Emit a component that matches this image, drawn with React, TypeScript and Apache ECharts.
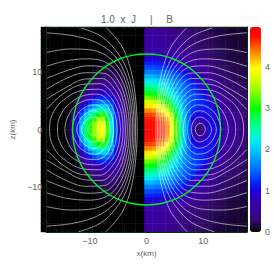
import React, { useEffect, useRef } from "react";
import * as echarts from "echarts";

const AXIS_LIMIT = 17.7;
const STAR_RADIUS = 13.03;
const COLOR_MAX = 4.96;
const HALF_CELLS = 24;
const OUTSIDE_COLS = 6;
const labelTicks = [-10, 0, 10];
const minorTicks = [-16, -14, -12, -10, -8, -6, -4, -2, 0, 2, 4, 6, 8, 10, 12, 14, 16];
const colorbarTicks = [0, 1, 2, 3, 4];
const palette = ["#000000", "#300a66", "#3c0098", "#3400b0", "#1c00d8", "#0030ff", "#0068ff", "#0098ff", "#00c8ff", "#00f0f0", "#00ffa8", "#00ff60", "#00ff00", "#50ff00", "#a0ff00", "#e0ff00", "#ffff00", "#ffb000", "#ff6000", "#ff1000", "#ff0000"];

// Left half (J): rows go outward from the equator, columns from x=-12.9 to x=-0.4
const currentRows = [
  [.12,.5,1.2,2.0,2.7,3.1,3.45,3.8,3.95,3.2,2.3,1.4,.85,.5,.15],
  [.1,.47,1.12,1.9,2.6,3.0,3.35,3.7,3.8,3.12,2.25,1.36,.82,.5,.14],
  [.08,.4,1.0,1.72,2.35,2.75,3.1,3.4,3.5,2.95,2.15,1.3,.78,.47,.13],
  [.05,.3,.82,1.4,2.0,2.4,2.7,2.98,3.05,2.65,1.98,1.22,.73,.43,.12],
  [.02,.2,.62,1.1,1.6,1.98,2.28,2.5,2.55,2.3,1.75,1.12,.68,.4,.1],
  [0,.1,.42,.82,1.2,1.55,1.82,2.0,2.05,1.9,1.5,1.0,.62,.36,.09],
  [0,.04,.26,.56,.88,1.15,1.38,1.55,1.6,1.5,1.25,.88,.55,.32,.08],
  [0,0,.13,.38,.6,.82,1.0,1.15,1.2,1.18,1.0,.75,.48,.27,.06],
  [0,0,.05,.22,.42,.58,.7,.8,.87,.88,.8,.62,.41,.22,.05],
  [0,0,0,.1,.26,.4,.5,.57,.62,.64,.6,.5,.34,.18,.04],
  [0,0,0,.03,.14,.27,.35,.42,.46,.47,.45,.38,.27,.14,.03],
  [0,0,0,0,.06,.16,.24,.3,.34,.35,.34,.29,.21,.1,.02],
  [0,0,0,0,.01,.08,.15,.21,.25,.26,.25,.22,.16,.07,.01],
  [0,0,0,0,0,.02,.08,.14,.18,.19,.19,.16,.11,.05,0],
  [0,0,0,0,0,0,.03,.08,.12,.14,.14,.11,.07,.03,0],
  [0,0,0,0,0,0,.01,.03,.06,.08,.09,.07,.04,.01,0],
  [0,0,0,0,0,0,0,0,.02,.04,.05,.04,.02,0,0],
];

// Right half (B): rows go outward from the equator, columns from x=0.4 to x=17.3
const fieldRows = [
  [4.82,4.82,4.8,4.75,4.65,4.42,3.95,3.25,2.65,2.0,1.35,.75,.2,.35,.8,1.0,1.05,.9,.68,.56,.5,.45,.4,.37],
  [4.78,4.78,4.75,4.7,4.58,4.35,3.88,3.2,2.62,2.0,1.38,.85,.5,.55,.85,1.02,1.05,.9,.68,.56,.5,.45,.4,.37],
  [4.7,4.7,4.66,4.6,4.47,4.22,3.75,3.1,2.55,1.98,1.42,1.0,.78,.78,.95,1.05,1.05,.88,.66,.55,.49,.44,.39,.36],
  [4.58,4.57,4.52,4.42,4.25,3.98,3.5,2.95,2.45,1.92,1.47,1.12,.98,.98,1.05,1.1,1.03,.85,.64,.53,.47,.42,.38,.35],
  [4.35,4.33,4.27,4.15,3.95,3.65,3.2,2.78,2.32,1.85,1.5,1.25,1.12,1.1,1.12,1.1,.98,.78,.6,.5,.45,.4,.36,.33],
  [4.05,4.02,3.96,3.82,3.6,3.28,2.92,2.55,2.17,1.78,1.52,1.32,1.2,1.18,1.15,1.07,.9,.7,.56,.47,.42,.38,.34,.31],
  [3.7,3.68,3.6,3.45,3.25,2.98,2.68,2.35,2.02,1.72,1.52,1.36,1.26,1.2,1.13,1.0,.8,.63,.52,.44,.39,.35,.32,.29],
  [3.3,3.28,3.22,3.1,2.94,2.72,2.46,2.18,1.9,1.68,1.5,1.38,1.28,1.18,1.06,.88,.7,.57,.47,.41,.36,.33,.3,.27],
  [3.0,2.98,2.92,2.82,2.68,2.48,2.26,2.02,1.8,1.62,1.47,1.35,1.24,1.12,.95,.77,.62,.51,.43,.37,.33,.3,.27,.25],
  [2.72,2.7,2.65,2.56,2.43,2.27,2.08,1.88,1.7,1.55,1.42,1.3,1.17,1.0,.84,.68,.55,.46,.39,.34,.3,.27,.25,.23],
  [2.45,2.43,2.38,2.31,2.2,2.06,1.9,1.74,1.6,1.47,1.35,1.2,1.05,.88,.73,.6,.49,.41,.35,.31,.28,.25,.23,.21],
  [2.2,2.18,2.14,2.07,1.97,1.86,1.73,1.6,1.48,1.37,1.23,1.07,.92,.77,.64,.53,.44,.37,.32,.28,.25,.23,.21,.19],
  [1.9,1.88,1.85,1.8,1.73,1.65,1.55,1.45,1.35,1.22,1.07,.93,.8,.67,.56,.47,.4,.34,.29,.26,.23,.21,.19,.18],
  [1.62,1.61,1.58,1.55,1.5,1.44,1.36,1.27,1.17,1.05,.92,.8,.69,.58,.5,.42,.36,.31,.27,.24,.21,.19,.18,.17],
  [1.38,1.37,1.35,1.32,1.28,1.23,1.17,1.09,1.0,.89,.78,.68,.59,.51,.44,.38,.33,.28,.25,.22,.2,.18,.17,.16],
  [1.18,1.17,1.15,1.13,1.09,1.04,.99,.92,.84,.75,.67,.59,.52,.45,.39,.34,.3,.26,.23,.2,.18,.17,.16,.15],
  [1.0,.99,.97,.95,.91,.87,.82,.76,.7,.63,.57,.51,.45,.4,.35,.31,.27,.24,.21,.19,.17,.16,.15,.14],
  [.82,.81,.79,.77,.74,.71,.67,.63,.58,.53,.48,.44,.39,.35,.31,.28,.25,.22,.2,.18,.16,.15,.14,.13],
  [.68,.67,.66,.64,.62,.59,.56,.53,.49,.45,.42,.38,.35,.31,.28,.25,.23,.2,.18,.17,.15,.14,.13,.12],
  [.65,.64,.62,.6,.58,.55,.52,.49,.45,.42,.38,.35,.32,.29,.26,.23,.21,.19,.17,.16,.14,.13,.12,.12],
  [.62,.61,.59,.57,.55,.52,.49,.46,.43,.39,.36,.33,.3,.27,.24,.22,.2,.18,.16,.15,.14,.13,.12,.11],
  [.6,.59,.57,.55,.52,.49,.46,.43,.4,.37,.34,.31,.28,.25,.23,.21,.19,.17,.15,.14,.13,.12,.11,.11],
  [.57,.56,.54,.52,.49,.46,.43,.4,.38,.35,.32,.29,.26,.24,.22,.2,.18,.16,.15,.13,.12,.12,.11,.1],
  [.55,.54,.52,.5,.47,.44,.41,.38,.36,.33,.3,.27,.25,.23,.21,.19,.17,.15,.14,.13,.12,.11,.1,.1],
];

// Field lines, upper right quadrant, [x km, z km]
const fieldLines: number[][][] = [
  [[8.6,0],[8.72,.55],[9.05,.95],[9.45,1.05],[9.85,.95],[10.2,.55],[10.35,0]],
  [[7.9,0],[8.05,.95],[8.55,1.8],[9.35,2.15],[10.2,1.9],[11.05,1.15],[11.45,0]],
  [[7.2,0],[7.4,1.4],[8.1,2.7],[9.2,3.25],[10.4,2.95],[11.6,1.85],[12.3,0]],
  [[6.45,0],[6.7,1.8],[7.6,3.5],[9,4.25],[10.6,3.95],[12.2,2.6],[13.1,0]],
  [[5.8,0],[6.1,2.2],[7.1,4.3],[8.8,5.2],[10.9,5],[13.2,3.4],[14.4,0]],
  [[5.2,0],[5.55,2.6],[6.7,4.9],[8.6,6.1],[11,5.9],[14,4.1],[15.4,1.9],[15.7,0]],
  [[4.6,0],[5,3],[6.3,5.5],[8.4,6.95],[11.2,6.8],[15,4.8],[16.7,2.4],[17.1,0]],
  [[4.15,0],[4.55,3.3],[5.9,6.1],[8.2,7.9],[11.2,7.8],[14.8,6.1],[17.7,3.4]],
  [[3.75,0],[4.15,3.6],[5.5,6.8],[7.9,8.8],[10.9,8.7],[14.3,7.2],[17.7,5.2]],
  [[3.4,0],[3.8,3.9],[5.1,7.4],[7.5,9.7],[10.8,9.8],[14.4,8.7],[17.7,6.9]],
  [[3.05,0],[3.45,4.2],[4.75,8],[7.1,10.6],[10.5,11],[14.2,10.1],[17.7,8.8]],
  [[2.75,0],[3.1,4.4],[4.35,8.5],[6.6,11.3],[10,12.2],[14,11.9],[17.7,10.9]],
  [[2.45,0],[2.8,4.6],[3.95,8.9],[6.1,12],[9.5,13.7],[13.5,13.9],[17.7,13.3]],
  [[2.2,0],[2.5,4.8],[3.6,9.2],[5.6,12.7],[8.8,15],[13,16.2],[17.7,16.7]],
  [[1.95,0],[2.2,4.9],[3.2,9.6],[5,13.1],[8,16.1],[12.1,17.7]],
  [[1.65,0],[1.9,5],[2.7,10],[4.1,13.9],[5.6,16],[7.2,17.7]],
];

const TEXT = "#666666";
const TICK = "#0a2a0e";
const FONT = "Liberation Sans";
const PLOT = { left: 41, top: 27, width: 206, height: 205 };

export default function App() {
  const ref = useRef<HTMLDivElement>(null);
  useEffect(() => {
    const chart = echarts.init(ref.current!, null, { renderer: "svg" });
    const cells: number[][] = [];
    for (let r = 0; r < HALF_CELLS; r++) {
      for (let c = 0; c < HALF_CELLS; c++) {
        const j = currentRows[r]?.[c - OUTSIDE_COLS] ?? 0;
        for (const y of [HALF_CELLS + r, HALF_CELLS - 1 - r]) {
          cells.push([c, y, j]);
          cells.push([HALF_CELLS + c, y, fieldRows[r][c]]);
        }
      }
    }
    const categories = Array.from({ length: HALF_CELLS * 2 }, (_, i) => String(i));
    const lineSeries: any[] = [];
    for (const sign of [-1, 1]) {
      for (const line of fieldLines) {
        const upper = line.map(([x, z]) => [sign * x, z]);
        const lower = line.map(([x, z]) => [sign * x, -z]).reverse();
        const isRing = line[line.length - 1][1] === 0;
        const pts = isRing ? upper.concat(lower.slice(1)) : lower.concat(upper.slice(1));
        lineSeries.push({
          type: "line",
          xAxisIndex: 0,
          yAxisIndex: 0,
          data: pts,
          smooth: 0.35,
          symbol: "none",
          silent: true,
          z: 3,
          lineStyle: { color: "rgba(255,255,255,0.62)", width: 0.9 },
        });
      }
    }
    const valueAxis = (position: string, showLabel: boolean) => ({
      type: "value",
      position,
      min: -AXIS_LIMIT,
      max: AXIS_LIMIT,
      z: 5,
      splitLine: { show: false },
      axisLine: { show: true, onZero: false, lineStyle: { color: TICK, width: 1 } },
      axisTick: { show: true, inside: true, length: 2, customValues: minorTicks, lineStyle: { color: TICK } },
      axisLabel: {
        show: showLabel,
        customValues: labelTicks,
        color: TEXT,
        fontFamily: FONT,
        fontSize: 9,
        margin: 4,
        formatter: (v: number) => String(v).replace("-", "\u2212"),
      },
    });
    chart.setOption({
      animation: false,
      backgroundColor: "#ffffff",
      title: {
        text: "1.0  x  J     |     B",
        left: 132,
        top: 9,
        textAlign: "center",
        textStyle: { color: TEXT, fontFamily: FONT, fontSize: 10, fontWeight: "normal" },
      },
      visualMap: {
        type: "continuous",
        min: 0,
        max: COLOR_MAX,
        seriesIndex: 0,
        left: 250,
        top: 27,
        itemWidth: 11,
        itemHeight: 205,
        padding: 0,
        calculable: false,
        hoverLink: false,
        inRange: { color: palette },
      },
      grid: [
        { ...PLOT },
        { ...PLOT },
        { left: 250, top: 27, width: 11, height: 205 },
      ],
      xAxis: [
        {
          ...valueAxis("bottom", true),
          gridIndex: 0,
          name: "x(km)",
          nameLocation: "middle",
          nameGap: 15,
          nameTextStyle: { color: TEXT, fontFamily: FONT, fontSize: 8 },
        },
        { type: "category", gridIndex: 1, data: categories, show: false },
        { type: "value", gridIndex: 2, show: false },
        { ...valueAxis("top", false), gridIndex: 0 },
      ],
      yAxis: [
        {
          ...valueAxis("left", true),
          gridIndex: 0,
          name: "z(km)",
          nameLocation: "middle",
          nameGap: 25,
          nameTextStyle: { color: TEXT, fontFamily: FONT, fontSize: 8 },
        },
        { type: "category", gridIndex: 1, data: categories, show: false },
        {
          type: "value",
          gridIndex: 2,
          position: "right",
          min: 0,
          max: COLOR_MAX,
          splitLine: { show: false },
          axisLine: { show: false },
          axisTick: { show: false },
          axisLabel: { customValues: colorbarTicks, color: TEXT, fontFamily: FONT, fontSize: 9, margin: 4 },
        },
        { ...valueAxis("right", false), gridIndex: 0 },
      ],
      series: [
        {
          type: "heatmap",
          xAxisIndex: 1,
          yAxisIndex: 1,
          data: cells,
          silent: true,
          z: 1,
          progressive: 0,
        },
        ...lineSeries,
        {
          type: "custom",
          xAxisIndex: 0,
          yAxisIndex: 0,
          data: [[0, 0]],
          silent: true,
          z: 4,
          renderItem: (_: any, api: any) => {
            const c = api.coord([0, 0]);
            const s = api.size([STAR_RADIUS, STAR_RADIUS]);
            return {
              type: "ellipse",
              shape: { cx: c[0], cy: c[1], rx: s[0], ry: s[1] },
              style: { fill: "none", stroke: "#00f020", lineWidth: 1.4 },
            };
          },
        },
      ],
    });
    return () => chart.dispose();
  }, []);
  return <div ref={ref} style={{ position: "fixed", left: 0, top: 0, width: 274, height: 274 }} />;
}
